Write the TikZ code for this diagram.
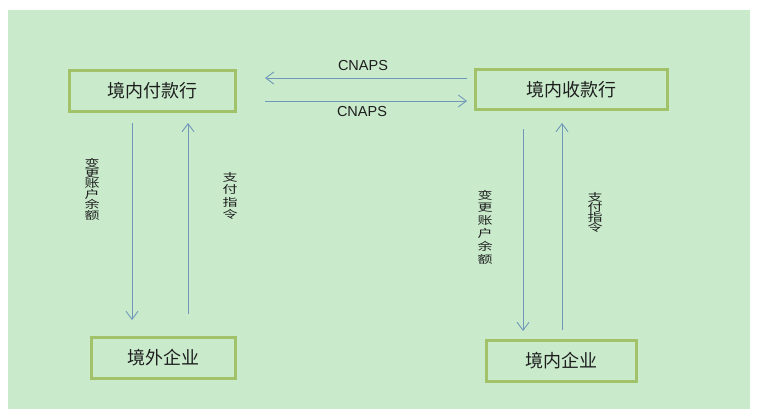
\documentclass[tikz,border=0pt]{standalone}
\usepackage{fontspec}
\newfontfamily\cjk{Noto Sans CJK SC}
\newfontfamily\latinf{Liberation Sans}
\usetikzlibrary{arrows.meta}
\definecolor{bggreen}{HTML}{C9EBCC}
\definecolor{boxgreen}{HTML}{A2C26A}
\definecolor{arrowblue}{HTML}{7097BA}
\definecolor{txt}{HTML}{1E1E1E}
\tikzset{
  bank/.style={draw=boxgreen, line width=3pt, fill=bggreen, inner sep=0pt,
    font=\cjk\fontsize{18}{18}\selectfont, text=txt},
  flow/.style={draw=arrowblue, line width=0.9pt, -{Straight Barb[length=8pt,width=12pt,line width=0.9pt]}},
  lbl/.style={font=\latinf\fontsize{14.5}{14.5}\selectfont, text=txt, inner sep=0pt},
  vlbl/.style={text=txt, align=center, inner sep=0pt, yscale=0.72, transform shape}
}
\newcommand{\vfnt}[1]{\cjk\fontsize{15}{#1}\selectfont}
\begin{document}
\begin{tikzpicture}[x=1pt,y=-1pt]
\useasboundingbox (0,0) rectangle (762,417);
\fill[white] (0,0) rectangle (762,417);
\fill[bggreen] (8,10) rectangle (750,409);

\node[bank, minimum width=166pt, minimum height=41pt] (pay) at (152.5,91) {境内付款行};
\node[bank, minimum width=192pt, minimum height=40pt] (rcv) at (571.5,89.5) {境内收款行};
\node[bank, minimum width=144pt, minimum height=41pt] (fco) at (163.5,358) {境外企业};
\node[bank, minimum width=150pt, minimum height=41pt] (dco) at (561.5,361) {境内企业};

\coordinate (a1s) at (467,78);  \coordinate (a1e) at (265,78);
\coordinate (a2s) at (265,101); \coordinate (a2e) at (467,101);
\coordinate (b1s) at (132,123); \coordinate (b1e) at (132,320);
\coordinate (b2s) at (188,314); \coordinate (b2e) at (188,123);
\coordinate (c1s) at (523,129); \coordinate (c1e) at (523,331);
\coordinate (c2s) at (562,330); \coordinate (c2e) at (562,123);

\draw[flow] (a1s) -- (a1e);
\draw[flow] (a2s) -- (a2e);
\draw[flow] (b1s) -- (b1e);
\draw[flow] (b2s) -- (b2e);
\draw[flow] (c1s) -- (c1e);
\draw[flow] (c2s) -- (c2e);

\node[lbl] (t1) at (363,66) {CNAPS};
\node[lbl] (t2) at (362,112) {CNAPS};

\node[vlbl, font=\vfnt{14.4}] (v1) at (92,189) {变\\更\\账\\户\\余\\额};
\node[vlbl, font=\vfnt{17.1}] (v2) at (230,196) {支\\付\\指\\令};
\node[vlbl, font=\vfnt{17.8}] (v3) at (485,227) {变\\更\\账\\户\\余\\额};
\node[vlbl, font=\vfnt{13.9}] (v4) at (595,212) {支\\付\\指\\令};
\end{tikzpicture}
\end{document}
